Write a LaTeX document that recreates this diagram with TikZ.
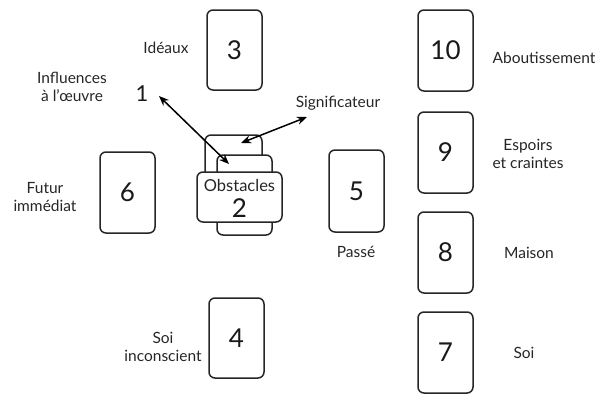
\documentclass[tikz,border=0pt]{standalone}
\usepackage{fontspec}
\setmainfont{Lato}
\usetikzlibrary{arrows.meta}
\begin{document}
\begin{tikzpicture}[x=1pt,y=-1pt,
  card/.style={draw=black!85,line width=1.5pt,rounded corners=6pt,fill=white},
  num/.style={font=\fontsize{26}{28}\selectfont,text=black!90},
  lab/.style={font=\fontsize{15.5}{18}\selectfont,text=black!85,align=center},
  conn/.style={line width=1.5pt,{Stealth[length=10pt,width=8pt]}-{Stealth[length=10pt,width=8pt]}}]
\useasboundingbox (0,0) rectangle (603,394);
% cards
\draw[card] (207,10) rectangle (262,90); \node[num] (n3) at (234.5,50) {3};
\draw[card] (418,10) rectangle (473,91); \node[num] (n10) at (445.5,50) {10};
\draw[card] (418,112) rectangle (473,193); \node[num] (n9) at (445.5,152) {9};
\draw[card] (329,150) rectangle (384,232); \node[num] (n5) at (356.5,191) {5};
\draw[card] (100,152) rectangle (155,233); \node[num] (n6) at (127.5,192) {6};
\draw[card] (418,212) rectangle (473,293); \node[num] (n8) at (445.5,252) {8};
\draw[card] (418,312) rectangle (473,393); \node[num] (n7) at (445.5,352) {7};
\draw[card] (209,298) rectangle (264,378); \node[num] (n4) at (236.5,338) {4};
% cross cluster
\draw[card] (205,135) rectangle (262,215);
\draw[card] (217,155) rectangle (272,235);
\draw[card] (197,172) rectangle (282,222);
\node[lab,font=\fontsize{16.5}{18}\selectfont] (obs) at (239.5,185) {Obstacles};
\node[num] (n2) at (239.5,208) {2};
\coordinate (cA) at (241,143);
\coordinate (cB) at (229,164);
% labels
\node[lab] (l3) at (166,48) {Idéaux};
\node[lab] (l1) at (72,87) {Influences\\à l'œuvre};
\node[num,font=\fontsize{22}{24}\selectfont] (n1) at (142,94) {1};
\node[lab] (sig) at (338,103) {Significateur};
\node[lab] (l10) at (544,58) {Aboutissement};
\node[lab] (l9) at (528,154) {Espoirs\\et craintes};
\node[lab] (l6) at (45,197) {Futur\\immédiat};
\node[lab] (l5) at (356,252) {Passé};
\node[lab] (l8) at (529,253) {Maison};
\node[lab] (l4) at (163,347) {Soi\\inconscient};
\node[lab] (l7) at (524,353) {Soi};
% arrows
\draw[conn] (cB) -- (159,96);
\draw[conn] (cA) -- (307,117);
\end{tikzpicture}
\end{document}
